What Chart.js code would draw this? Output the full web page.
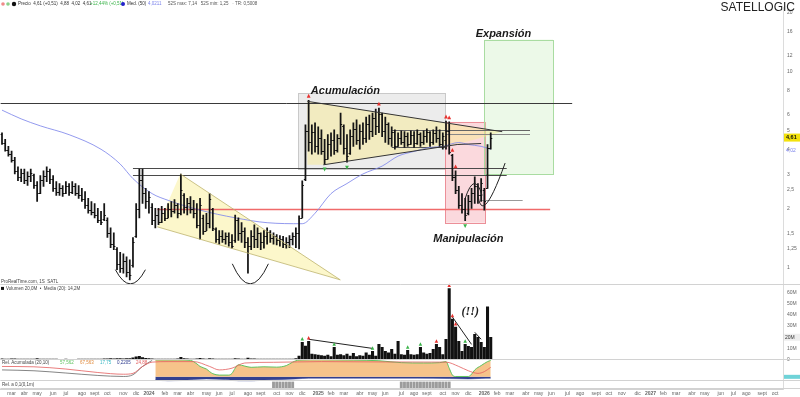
<!DOCTYPE html>
<html>
<head>
<meta charset="utf-8">
<script src="https://cdn.jsdelivr.net/npm/chart.js@4.4.1/dist/chart.umd.min.js"></script>
<style>
  html, body { margin: 0; padding: 0; background: #fff; }
  #wrap { width: 800px; height: 397px; position: relative; }
</style>
</head>
<body>
<div id="wrap"><canvas id="c"></canvas></div>
<script>
// weekly bars, first bar = week of 13 Feb 2023
const START = Date.UTC(2023, 1, 13);
const WEEKS = 245;
const MONTHS = ['ene', 'feb', 'mar', 'abr', 'may', 'jun', 'jul', 'ago', 'sept', 'oct', 'nov', 'dic'];

const highs = [4.88,4.51,4.16,3.93,3.66,3.27,3.19,3.19,3.09,3.19,3.01,2.75,2.95,3.12,3.27,3.19,2.95,2.75,2.69,2.63,
  2.75,2.69,2.75,2.69,2.63,2.54,2.45,2.26,2.18,2.13,2.01,1.94,2.13,1.80,1.60,1.51,1.27,1.20,1.18,1.14,
  1.10,1.43,2.13,3.19,3.19,2.54,2.45,2.13,2.01,2.01,2.06,2.01,2.13,2.18,2.23,2.13,3.01,2.39,2.26,2.31,
  2.21,2.13,2.26,1.86,1.90,2.39,2.01,1.60,1.55,1.55,1.51,1.51,1.48,1.86,1.80,1.70,1.60,1.43,1.55,1.66,
  1.60,1.51,1.55,1.60,1.55,1.51,1.48,1.46,1.45,1.43,1.46,1.51,1.60,1.84,2.78,5.35,7.14,5.35,5.48,5.23,
  5.05,4.51,4.77,4.88,5.05,4.77,6.15,5.35,4.77,5.05,5.48,5.67,5.35,5.48,5.87,6.00,6.15,6.44,6.51,6.15,
  5.87,5.48,5.23,5.05,4.88,4.99,4.94,4.88,4.99,4.94,5.05,4.88,4.99,5.11,4.94,5.05,5.23,5.05,4.88,5.60,
  5.54,3.79,3.12,2.60,2.39,2.26,2.34,2.54,2.91,2.69,2.85,2.54,4.25,4.88];
const lows = [4.25,3.93,3.71,3.46,3.01,2.78,2.75,2.69,2.63,2.75,2.54,2.18,2.39,2.60,2.75,2.69,2.45,2.34,2.34,2.31,
  2.39,2.34,2.39,2.34,2.26,2.18,2.01,1.90,1.86,1.80,1.70,1.66,1.74,1.43,1.27,1.24,0.98,0.95,0.94,0.90,
  0.87,1.01,1.43,1.80,2.13,2.01,1.90,1.66,1.60,1.66,1.70,1.74,1.80,1.82,1.90,1.80,1.86,1.90,1.86,1.90,
  1.80,1.60,1.40,1.48,1.55,1.60,1.55,1.35,1.32,1.35,1.32,1.29,1.26,1.35,1.38,1.35,1.27,0.94,1.24,1.27,
  1.27,1.24,1.26,1.32,1.35,1.32,1.31,1.29,1.27,1.26,1.27,1.31,1.27,1.25,1.80,2.78,3.93,3.79,3.89,3.79,
  3.79,3.38,3.58,3.71,3.79,3.89,4.25,3.79,3.46,3.79,4.16,4.25,4.02,4.25,4.35,4.51,4.66,4.77,4.88,4.66,
  4.35,4.25,4.16,4.02,4.16,4.25,4.11,4.16,4.25,4.11,4.25,4.16,4.25,4.35,4.16,4.25,4.35,4.16,4.02,4.02,
  3.79,2.78,2.39,2.01,1.90,1.74,1.86,2.01,2.13,2.13,2.18,1.97,2.54,4.02];
const opens = [4.80,4.35,4.00,3.80,3.55,3.10,2.90,3.05,2.80,2.95,2.98,2.65,2.40,2.80,2.95,3.10,2.85,2.55,2.45,2.55,
  2.40,2.60,2.45,2.62,2.42,2.35,2.25,2.10,1.98,1.92,1.85,1.75,1.78,1.75,1.50,1.32,1.25,1.05,1.00,1.08,
  0.95,1.03,1.45,2.00,2.80,2.40,2.20,2.05,1.75,1.85,1.72,1.90,1.80,2.00,1.95,2.10,1.90,2.35,2.05,2.15,
  2.00,1.90,1.65,1.80,1.55,1.70,2.00,1.58,1.40,1.45,1.40,1.45,1.35,1.38,1.75,1.50,1.55,1.35,1.30,1.45,
  1.40,1.50,1.35,1.45,1.52,1.42,1.45,1.38,1.40,1.33,1.36,1.40,1.45,1.50,1.80,2.85,5.00,4.40,4.90,4.20,
  4.60,3.95,3.60,4.30,4.50,4.00,4.60,5.30,4.10,3.85,4.70,5.10,4.50,5.00,4.60,5.40,5.00,5.80,5.30,6.10,
  5.00,5.40,4.60,4.90,4.20,4.60,4.40,4.70,4.30,4.75,4.35,4.80,4.40,4.70,4.90,4.40,4.85,4.60,4.30,4.50,
  5.00,3.75,2.90,2.50,2.10,2.00,1.90,2.20,2.40,2.60,2.35,2.50,2.55,4.10];
const closes = [4.35,4.00,3.80,3.55,3.10,2.90,3.05,2.80,2.95,3.05,2.65,2.40,2.80,2.95,3.10,2.85,2.55,2.45,2.55,2.40,
  2.60,2.45,2.62,2.42,2.35,2.25,2.10,1.98,1.92,1.85,1.75,1.72,1.85,1.50,1.32,1.30,1.05,1.00,1.08,0.95,
  0.92,1.35,2.00,2.80,2.40,2.20,2.30,1.75,1.85,1.72,1.90,1.80,2.00,1.95,2.10,1.90,2.50,2.05,2.15,2.00,
  1.90,1.65,2.10,1.55,1.70,2.25,1.60,1.40,1.45,1.40,1.45,1.35,1.30,1.75,1.50,1.55,1.35,1.30,1.45,1.40,
  1.50,1.35,1.45,1.52,1.42,1.45,1.38,1.40,1.33,1.36,1.40,1.45,1.50,1.80,2.65,5.00,4.40,4.90,4.20,4.60,
  3.95,3.60,4.30,4.50,4.00,4.60,5.40,4.10,3.70,4.70,5.10,4.50,5.00,4.60,5.40,5.00,5.80,5.30,6.10,5.00,
  5.40,4.60,4.90,4.20,4.60,4.40,4.70,4.30,4.75,4.35,4.80,4.40,4.70,4.90,4.40,4.85,4.60,4.30,4.70,5.00,
  3.90,2.90,2.50,2.10,2.00,1.85,2.20,2.40,2.60,2.35,2.70,2.20,4.10,4.61];
// volume, millions
const volumes = [0.6,0.5,0.5,0.7,0.6,0.5,0.4,0.5,0.4,0.5,0.5,0.8,0.5,0.4,0.5,0.4,0.5,0.4,0.3,0.3,
  0.4,0.3,0.3,0.3,0.4,0.4,0.5,0.5,0.4,0.4,0.5,0.5,0.6,0.7,0.8,0.6,0.9,0.8,0.7,0.8,
  0.9,1.5,2.5,2.8,1.8,1.0,0.8,0.6,0.5,0.5,0.5,0.4,0.5,0.5,0.5,0.6,2.0,0.9,0.6,0.5,
  0.5,0.6,1.0,0.6,0.5,0.9,0.6,0.5,0.4,0.4,0.4,0.4,0.4,0.8,0.6,0.5,0.5,1.2,0.6,0.6,
  0.5,0.5,0.5,0.5,0.4,0.4,0.4,0.4,0.4,0.4,0.5,0.5,0.8,3.0,15.5,12.0,16.4,5.0,4.5,4.0,
  3.5,3.0,4.0,2.7,10.9,4.0,4.5,3.5,5.0,3.0,5.5,2.7,3.5,3.0,6.0,4.0,7.3,3.0,13.6,10.9,
  7.3,6.0,9.1,5.0,16.4,4.5,4.0,8.2,4.5,4.0,4.5,10.9,6.0,5.0,5.5,9.1,13.6,10.9,4.5,18.2,
  63.6,36.4,29.1,16.4,7.3,13.6,11.8,10.9,22.7,20.0,15.5,10.9,47.3,20.0];

// moving average read at some weeks
const maIdx = [0,6,12,21,31,37,41,47,52,62,73,83,94,98,103,108,113,119,124,129,134,138,143,146,150,153];
const maVals = [6.36,5.74,5.29,4.77,4.02,3.38,2.85,2.39,2.21,1.97,1.80,1.70,1.68,1.90,2.39,2.69,3.01,3.30,3.71,3.92,4.11,4.16,4.35,4.25,4.16,4.02];

// lower indicator
const greenIdx = [48,55,59,61,62,64,65,66,68,71,72,73,74,76,78,82,86,89,91,93,100,110,118,125,132,137,139,140,141,142,146,147,148,150,152,153];
const greenVals = [98,98,95,75,60,45,30,18,10,10,20,50,70,62,55,58,56,65,85,97,99,97,93,82,80,82,88,50,10,2,2,15,40,65,88,95];
const redIdx = [0,10,20,30,38,41,44,47,52,60,65,68,72,76,85,100,120,139,143,146,149,151,153];
const redVals = [60,58,45,25,15,20,60,85,88,88,60,40,50,80,84,88,86,85,60,35,20,30,55];
const grayIdx = [0,10,20,30,38,41,44,47];
const grayVals = [40,35,22,8,2,12,60,95];
const blueIdx = [48,52,56,60,64,70,74,78,82,88,92,96,110,130,140,146,150,153];
const blueVals = [-18,-25,-22,-15,-12,-16,-25,-26,-18,-15,-12,-8,-8,-8,-10,-12,-9,-8];
const eventWeeks = [85,86,87,88,89,90,91,125,126,127,128,129,130,131,132,133,134,135,136,137,138,139,140];

const priceTicks = [1, 1.25, 1.5, 2, 2.5, 3, 4, 5, 6, 8, 10, 12, 16, 20];
const volTicks = [0, 10, 20, 30, 40, 50, 60];

// signals
const redTops = [96, 118, 139, 140, 141, 142];
const greenBottoms = [101, 108, 145];
const volRed = [96, 136, 140, 141, 142];
const volGreen = [94, 104, 116, 127, 131, 145];

// drawing on the price panel, in (week, price)
const zones = [
  { i0: 92.7, i1: 138.7, p0: 3.19, p1: 7.73, fill: 'rgba(195,195,195,0.32)', stroke: '#c9c9c9' },
  { i0: 138.7, i1: 151.3, p0: 1.70, p1: 5.54, fill: 'rgba(244,160,170,0.40)', stroke: '#ec8f98' },
  { i0: 151.0, i1: 172.5, p0: 3.01, p1: 14.55, fill: 'rgba(195,236,185,0.32)', stroke: '#a9dca1' }
];
const shapes = [
  { pts: [[95.6, 7.05], [156.6, 4.94], [142.5, 4.25], [100.6, 3.35], [95.6, 3.35]], fill: 'rgba(250,236,140,0.45)' },
  { pts: [[48.6, 1.62], [55.8, 3.01], [105.9, 0.87]], fill: 'rgba(250,240,160,0.55)' }
];
const levels = [
  { p: 6.89, i0: -0.5, i1: 178.5, c: '#3a3a3a', w: 1 },
  { p: 3.23, i0: 41, i1: 158, c: '#4a4a4a', w: 1 },
  { p: 2.98, i0: 41, i1: 158, c: '#4a4a4a', w: 1 },
  { p: 1.99, i0: 48.6, i1: 171.6, c: '#f06a6a', w: 1.3 },
  { p: 2.23, i0: 149.7, i1: 163, c: '#9a9a9a', w: 1 },
  { p: 5.05, i0: 122, i1: 165.3, c: '#666', w: 1 },
  { p: 4.83, i0: 138.7, i1: 165.3, c: '#888', w: 1 },
  { p: 4.11, i0: 122, i1: 138.7, c: '#555', w: 1 }
];
const segs = [
  { a: [95.6, 7.05], b: [156.6, 4.94], c: '#333' },
  { a: [100.6, 3.35], b: [142.5, 4.25], c: '#333' },
  { a: [142.5, 4.25], b: [150, 4.3], c: '#333' },
  { a: [55.8, 3.01], b: [105.9, 0.87], c: 'rgba(190,180,110,0.8)' },
  { a: [48.6, 1.62], b: [105.9, 0.87], c: 'rgba(190,180,110,0.8)' }
];
const arcs = [
  [[35.5, 0.98], [40.2, 0.83], [44.9, 0.98]],
  [[72.1, 1.05], [77.7, 0.83], [83.4, 1.05]],
  [[145, 2.26], [147.8, 2.69], [150.3, 2.34]],
  [[148.8, 2.60], [151.3, 2.10], [157.5, 3.42]]
];
const notes = [
  { t: 'Acumulación', i: 107.5, p: 8.0 },
  { t: 'Manipulación', i: 146, p: 1.40 },
  { t: 'Expansión', i: 157, p: 15.6 }
];

// week categories and month tick text
const weeks = [];
const tickText = [];
for (let i = 0; i < WEEKS; i++) {
  const d = new Date(START + i * 7 * 86400000);
  const prev = new Date(START + (i - 1) * 7 * 86400000);
  weeks.push(d.toISOString().slice(0, 10));
  let t = '';
  if (i > 0 && d.getUTCMonth() !== prev.getUTCMonth()) {
    t = d.getUTCMonth() === 0 ? String(d.getUTCFullYear()) : MONTHS[d.getUTCMonth()];
  }
  tickText.push(t);
}

function sparse(idx, vals) {
  const a = new Array(WEEKS).fill(null);
  idx.forEach((k, j) => { a[k] = vals[j]; });
  return a;
}

const priceBars = weeks.map((w, i) => i < highs.length ? [lows[i], highs[i]] : null);
const volBars = weeks.map((w, i) => i < volumes.length ? volumes[i] : null);
const eventBars = weeks.map((w, i) => eventWeeks.includes(i) ? 1 : null);

const fmt = v => String(v).replace('.', ',');

function tri(ctx, x, y, s, up, color) {
  ctx.fillStyle = color;
  ctx.beginPath();
  if (up) { ctx.moveTo(x, y - s); ctx.lineTo(x + s * 0.8, y + s * 0.6); ctx.lineTo(x - s * 0.8, y + s * 0.6); }
  else { ctx.moveTo(x, y + s); ctx.lineTo(x + s * 0.8, y - s * 0.6); ctx.lineTo(x - s * 0.8, y - s * 0.6); }
  ctx.closePath();
  ctx.fill();
}

const decor = {
  id: 'decor',
  beforeDatasetsDraw(chart) {
    const { ctx, chartArea, scales: { x, y } } = chart;
    const X = i => x.getPixelForValue(i), Y = p => y.getPixelForValue(p);
    ctx.save();
    ctx.beginPath();
    ctx.rect(chartArea.left, y.top, chartArea.right - chartArea.left, y.bottom - y.top);
    ctx.clip();
    zones.forEach(z => {
      const x0 = X(z.i0), x1 = X(z.i1), y0 = Y(z.p1), y1 = Y(z.p0);
      ctx.fillStyle = z.fill;
      ctx.fillRect(x0, y0, x1 - x0, y1 - y0);
      ctx.strokeStyle = z.stroke;
      ctx.lineWidth = 1;
      ctx.strokeRect(Math.round(x0) + 0.5, Math.round(y0) + 0.5, Math.round(x1 - x0), Math.round(y1 - y0));
    });
    shapes.forEach(s => {
      ctx.beginPath();
      s.pts.forEach(([i, p], k) => k ? ctx.lineTo(X(i), Y(p)) : ctx.moveTo(X(i), Y(p)));
      ctx.closePath();
      ctx.fillStyle = s.fill;
      ctx.fill();
    });
    levels.forEach(l => {
      const yy = Math.round(Y(l.p)) + 0.5;
      ctx.strokeStyle = l.c;
      ctx.lineWidth = l.w;
      ctx.beginPath();
      ctx.moveTo(X(l.i0), yy);
      ctx.lineTo(X(l.i1), yy);
      ctx.stroke();
    });
    ctx.restore();
  },
  afterDatasetsDraw(chart) {
    const { ctx, chartArea, scales: { x, y, yVol, yInd, yMisc } } = chart;
    const X = i => x.getPixelForValue(i), Y = p => y.getPixelForValue(p);
    ctx.save();
    ctx.beginPath();
    ctx.rect(chartArea.left, y.top, chartArea.right - chartArea.left, y.bottom - y.top);
    ctx.clip();
    // open / close ticks
    ctx.strokeStyle = '#111';
    ctx.lineWidth = 1;
    closes.forEach((c, i) => {
      const xc = X(i);
      const yo = Math.round(Y(opens[i])) + 0.5, yc = Math.round(Y(c)) + 0.5;
      ctx.beginPath();
      ctx.moveTo(xc - 1.6, yo); ctx.lineTo(xc, yo);
      ctx.moveTo(xc, yc); ctx.lineTo(xc + 1.6, yc);
      ctx.stroke();
    });
    segs.forEach(s => {
      ctx.strokeStyle = s.c;
      ctx.lineWidth = 1;
      ctx.beginPath();
      ctx.moveTo(X(s.a[0]), Y(s.a[1]));
      ctx.lineTo(X(s.b[0]), Y(s.b[1]));
      ctx.stroke();
    });
    ctx.strokeStyle = '#222';
    ctx.lineWidth = 1;
    arcs.forEach(([a, m, b]) => {
      const ax = X(a[0]), ay = Y(a[1]), mx = X(m[0]), my = Y(m[1]), bx = X(b[0]), by = Y(b[1]);
      ctx.beginPath();
      ctx.moveTo(ax, ay);
      ctx.quadraticCurveTo(2 * mx - (ax + bx) / 2, 2 * my - (ay + by) / 2, bx, by);
      ctx.stroke();
    });
    redTops.forEach(i => tri(ctx, X(i), Y(highs[i]) - 4, 2.4, true, '#e8322f'));
    greenBottoms.forEach(i => tri(ctx, X(i), Y(lows[i]) + 5, 2.4, false, '#3cb44b'));
    ctx.fillStyle = '#1a1a1a';
    ctx.font = 'italic bold 11px "Liberation Sans", Arial, sans-serif';
    ctx.textAlign = 'center';
    ctx.textBaseline = 'middle';
    notes.forEach(n => ctx.fillText(n.t, X(n.i), Y(n.p)));
    ctx.restore();

    // volume panel extras
    const V = v => yVol.getPixelForValue(v);
    ctx.save();
    ctx.strokeStyle = '#222';
    ctx.lineWidth = 1;
    [[96, 116], [141, 147], [148, 150]].forEach(([a, b]) => {
      ctx.beginPath();
      ctx.moveTo(X(a), V(volumes[a]) - 2);
      ctx.lineTo(X(b), V(volumes[b]) - 3);
      ctx.stroke();
    });
    volRed.forEach(i => tri(ctx, X(i), V(volumes[i]) - 3, 2.2, true, '#e8322f'));
    volGreen.forEach(i => tri(ctx, X(i), V(volumes[i]) - 3, 2.2, true, '#3cb44b'));
    ctx.fillStyle = '#1a1a1a';
    ctx.font = 'italic bold 12px "Liberation Serif", serif';
    ctx.textAlign = 'center';
    ctx.textBaseline = 'middle';
    ctx.fillText('(!!)', X(146.6), V(42.7));

    // panel separators
    ctx.strokeStyle = '#d2d2d2';
    ctx.lineWidth = 1;
    [y.bottom, yVol.bottom, yInd.bottom, yMisc.bottom].forEach(b => {
      ctx.beginPath();
      ctx.moveTo(chartArea.left, Math.round(b) - 0.5);
      ctx.lineTo(chart.width, Math.round(b) - 0.5);
      ctx.stroke();
    });

    // axis value labels
    const lastY = Y(closes[closes.length - 1]);
    ctx.fillStyle = '#f3e20c';
    ctx.fillRect(chartArea.right + 1, lastY - 4, 16, 8);
    ctx.fillStyle = '#111';
    ctx.font = 'bold 5.5px "Liberation Sans", Arial, sans-serif';
    ctx.textAlign = 'left';
    ctx.fillText(fmt(closes[closes.length - 1]), chartArea.right + 3, lastY);
    const maY = Y(maVals[maVals.length - 1]);
    ctx.fillStyle = '#7b83eb';
    ctx.font = '5px "Liberation Sans", Arial, sans-serif';
    ctx.fillText(fmt(maVals[maVals.length - 1]), chartArea.right + 3, maY + 1);
    const vY = V(volumes[volumes.length - 1]);
    ctx.fillStyle = '#eee';
    ctx.fillRect(chartArea.right + 1, vY - 3.5, 16, 7);
    ctx.fillStyle = '#333';
    ctx.fillText(fmt(volumes[volumes.length - 1]) + 'M', chartArea.right + 2, vY);
    ctx.fillStyle = '#6fd3d8';
    ctx.fillRect(chartArea.right + 1, yInd.getPixelForValue(0) - 2, 16, 4);

    // panel captions
    ctx.font = '4.5px "Liberation Sans", Arial, sans-serif';
    ctx.textBaseline = 'middle';
    ctx.fillStyle = '#444';
    ctx.fillText('ProRealTime.com, 1S  SATL', 1, y.bottom - 3);
    ctx.fillStyle = '#111';
    ctx.fillRect(1, yVol.top + 2, 3, 3);
    ctx.fillStyle = '#444';
    ctx.fillText('Volumen 20,0M  \u2022  Media (20): 14,2M', 6, yVol.top + 3.5);
    ctx.fillText('Rel. Acumulada (20,10)', 2, yInd.top + 3);
    ctx.fillStyle = '#5fc35f'; ctx.fillText('57,562', 60, yInd.top + 3);
    ctx.fillStyle = '#e08a3c'; ctx.fillText('67,563', 80, yInd.top + 3);
    ctx.fillStyle = '#36b7c4'; ctx.fillText('17,75', 100, yInd.top + 3);
    ctx.fillStyle = '#2d3b8e'; ctx.fillText('0,2205', 117, yInd.top + 3);
    ctx.fillStyle = '#e35d5d'; ctx.fillText('24,88', 136, yInd.top + 3);
    ctx.fillStyle = '#444';
    ctx.fillText('Rel. a 0,1(0,1m)', 2, yMisc.top + 4);

    // top legend
    ctx.fillStyle = '#f08a8a'; ctx.beginPath(); ctx.arc(3, 4, 1.8, 0, 7); ctx.fill();
    ctx.fillStyle = '#8ad08a'; ctx.beginPath(); ctx.arc(8, 4, 1.8, 0, 7); ctx.fill();
    ctx.fillStyle = '#111'; ctx.beginPath(); ctx.arc(14, 4, 2.2, 0, 7); ctx.fill();
    ctx.fillStyle = '#333';
    ctx.fillText('Precio  4,61 (+0,51)  4,88  4,02  4,61', 18, 4);
    ctx.fillStyle = '#3cb44b'; ctx.fillText('+12,44% (+0,51)', 90, 4);
    ctx.fillStyle = '#2222cc'; ctx.beginPath(); ctx.arc(123, 4, 2, 0, 7); ctx.fill();
    ctx.fillStyle = '#333'; ctx.fillText('Med. (50)', 127, 4);
    ctx.fillStyle = '#7b83eb'; ctx.fillText('4,0211', 148, 4);
    ctx.fillStyle = '#555'; ctx.fillText('52S max: 7,14   52S min: 1,25   \u00b7 TR: 0,5008', 168, 4);

    ctx.fillStyle = '#222';
    ctx.font = '12px "Liberation Sans", Arial, sans-serif';
    ctx.textAlign = 'right';
    ctx.fillText('SATELLOGIC', 795, 8);
    ctx.restore();
  }
};

const sideWidth = s => { s.width = 17; };

new Chart(document.getElementById('c'), {
  type: 'bar',
  data: {
    labels: weeks,
    datasets: [
      { label: 'Precio', data: priceBars, yAxisID: 'y', backgroundColor: '#151515', barThickness: 1.1, grouped: false, order: 0 },
      { type: 'line', label: 'Media (50)', data: sparse(maIdx, maVals), yAxisID: 'y', borderColor: 'rgba(128,136,235,0.85)',
        borderWidth: 1, pointRadius: 0, spanGaps: true, cubicInterpolationMode: 'monotone', order: 1 },
      { label: 'Volumen', data: volBars, yAxisID: 'yVol', backgroundColor: '#111', barThickness: 2.4, grouped: false, order: 2 },
      { type: 'line', label: 'Rel', data: sparse(greenIdx, greenVals), yAxisID: 'yInd', borderColor: '#5fc35f', borderWidth: 1,
        pointRadius: 0, spanGaps: true, cubicInterpolationMode: 'monotone', fill: 'origin', backgroundColor: 'rgba(246,192,132,0.95)', order: 5 },
      { type: 'line', label: 'Rel2', data: sparse(blueIdx, blueVals), yAxisID: 'yInd', borderColor: '#2d3b8e', borderWidth: 0.5,
        pointRadius: 0, spanGaps: true, cubicInterpolationMode: 'monotone', fill: 'origin', backgroundColor: '#34418f', order: 6 },
      { type: 'line', label: 'Rel3', data: sparse(redIdx, redVals), yAxisID: 'yInd', borderColor: '#e35d5d', borderWidth: 0.8,
        pointRadius: 0, spanGaps: true, cubicInterpolationMode: 'monotone', order: 3 },
      { type: 'line', label: 'Rel4', data: sparse(grayIdx, grayVals), yAxisID: 'yInd', borderColor: '#666', borderWidth: 0.8,
        pointRadius: 0, spanGaps: true, cubicInterpolationMode: 'monotone', order: 4 },
      { label: 'Eventos', data: eventBars, yAxisID: 'yMisc', backgroundColor: '#9c9c9c', barThickness: 2.2, grouped: false, order: 7 }
    ]
  },
  options: {
    responsive: true,
    maintainAspectRatio: false,
    animation: false,
    devicePixelRatio: 1,
    layout: { padding: 0 },
    plugins: { legend: { display: false }, tooltip: { enabled: false } },
    scales: {
      x: {
        type: 'category',
        offset: true,
        grid: { display: false, drawTicks: false },
        border: { color: '#d2d2d2' },
        ticks: {
          autoSkip: false, maxRotation: 0, minRotation: 0, padding: 2, color: '#666',
          font: ctx => ({ size: 5, weight: /^\d{4}$/.test(tickText[ctx.index] || '') ? 'bold' : 'normal', family: '"Liberation Sans", Arial, sans-serif' }),
          callback: (v, i) => tickText[i]
        },
        afterFit: s => { s.height = 8; }
      },
      y: {
        type: 'logarithmic', position: 'right', stack: 'panels', stackWeight: 283, weight: 1,
        min: 0.82, max: 21.3,
        grid: { display: false, drawTicks: false },
        border: { color: '#dcdcdc' },
        ticks: { color: '#666', padding: 4, font: { size: 5 }, autoSkip: false, callback: v => fmt(v) },
        afterBuildTicks: s => { s.ticks = priceTicks.map(v => ({ value: v })); },
        afterFit: sideWidth
      },
      yVol: {
        type: 'linear', position: 'right', stack: 'panels', stackWeight: 76, weight: 2,
        min: 0, max: 67,
        grid: { display: false, drawTicks: false },
        border: { color: '#dcdcdc' },
        ticks: { color: '#666', padding: 4, font: { size: 5 }, autoSkip: false, callback: v => v === 0 ? '0' : v + 'M' },
        afterBuildTicks: s => { s.ticks = volTicks.map(v => ({ value: v })); },
        afterFit: sideWidth
      },
      yInd: {
        type: 'linear', position: 'right', stack: 'panels', stackWeight: 22, weight: 3,
        min: -25, max: 100,
        grid: { display: false, drawTicks: false },
        border: { color: '#dcdcdc' },
        ticks: { display: false },
        afterFit: sideWidth
      },
      yMisc: {
        type: 'linear', position: 'right', stack: 'panels', stackWeight: 8, weight: 4,
        min: 0, max: 1.1,
        grid: { display: false, drawTicks: false },
        border: { color: '#dcdcdc' },
        ticks: { display: false },
        afterFit: sideWidth
      }
    }
  },
  plugins: [decor]
});
</script>
</body>
</html>
